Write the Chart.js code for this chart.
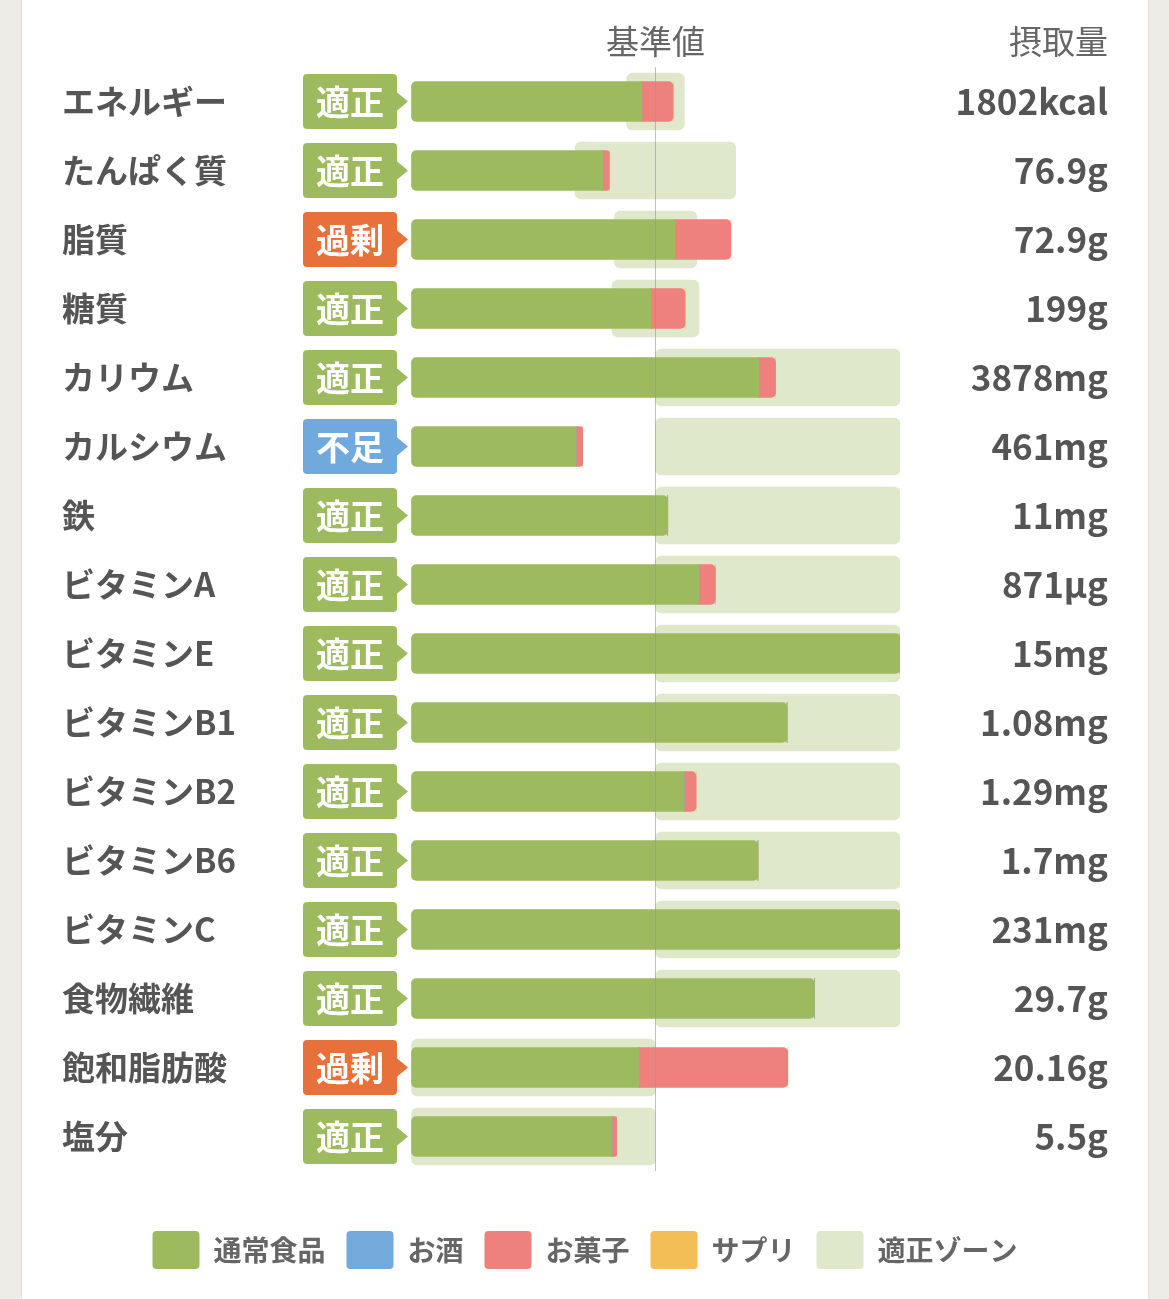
<!DOCTYPE html>
<html lang="ja">
<head>
<meta charset="utf-8">
<title>栄養素バランス</title>
<script src="https://cdn.jsdelivr.net/npm/chart.js@4.4.1/dist/chart.umd.min.js"></script>
<style>
  html, body { margin: 0; padding: 0; background: #edece6; overflow: hidden; }
  .card { position: absolute; left: 22px; top: 0; width: 1126px; height: 1299px; background: #fff; box-shadow: 0 0 2px rgba(0,0,0,0.15); }
  #canvas { position: absolute; left: 0; top: 0; }
</style>
</head>
<body>
<div class="card"></div>
<canvas id="canvas" width="1169" height="1299"></canvas>
<script>
const nutrients = [
  'エネルギー', 'たんぱく質', '脂質', '糖質',
  'カリウム', 'カルシウム', '鉄', 'ビタミンA',
  'ビタミンE', 'ビタミンB1', 'ビタミンB2', 'ビタミンB6',
  'ビタミンC', '食物繊維', '飽和脂肪酸', '塩分'
];

const intake = [
  '1802kcal', '76.9g', '72.9g', '199g',
  '3878mg', '461mg', '11mg', '871µg',
  '15mg', '1.08mg', '1.29mg', '1.7mg',
  '231mg', '29.7g', '20.16g', '5.5g'
];

const status = [
  '適正', '適正', '過剰', '適正',
  '適正', '不足', '適正', '適正',
  '適正', '適正', '適正', '適正',
  '適正', '適正', '過剰', '適正'
];

// % of the reference value (the chart is cut at 200)
const foodPct = [94.4, 78.4, 108, 98.2, 142.3, 67.5, 105, 117.7, 200, 153.8, 111.7, 141.9, 200, 165, 93.3, 82.2];
const alcoholPct = [0, 0, 0, 0, 0, 0, 0, 0, 0, 0, 0, 0, 0, 0, 0, 0];
const snackPct = [12.8, 2.7, 22.8, 13.9, 6.8, 2.7, 0, 6.8, 0, 0, 4.9, 0, 0, 0, 60.8, 1.9];
const supplementPct = [0, 0, 0, 0, 0, 0, 0, 0, 0, 0, 0, 0, 0, 0, 0, 0];

const zoneMin = [88.2, 67.1, 83.2, 82.2, 100, 100, 100, 100, 100, 100, 100, 100, 100, 100, 0, 0];
const zoneMax = [111.8, 132.8, 116.9, 117.8, 200, 200, 200, 200, 200, 200, 200, 200, 200, 200, 100, 100];

const baseLabel = '基準値';
const intakeTitle = '摂取量';

const badgeColors = { '適正': '#9dbb5e', '過剰': '#e8703a', '不足': '#6fa9dd' };

const pieces = [foodPct, alcoholPct, snackPct, supplementPct];
const R = 5;

// round only the outer ends of a stacked bar
function radiusFor(series, i) {
  const firstIdx = pieces.findIndex(p => p[i] > 0);
  let lastIdx = -1;
  pieces.forEach((p, k) => { if (p[i] > 0) lastIdx = k; });
  const left = series === firstIdx ? R : 0;
  const right = series === lastIdx ? R : 0;
  return { topLeft: left, bottomLeft: left, topRight: right, bottomRight: right };
}

function piece(label, values, color, series) {
  return {
    label: label,
    data: values,
    backgroundColor: color,
    borderWidth: 0,
    borderSkipped: false,
    borderRadius: c => radiusFor(series, c.dataIndex),
    barThickness: 40,
    grouped: false,
    stack: 'intake',
    order: 0
  };
}

const badgePlugin = {
  id: 'badges',
  afterDraw(chart) {
    const { ctx, chartArea } = chart;
    const y = chart.scales.y;
    const right = chartArea.left - 14;
    const w = 94, h = 55;
    ctx.save();
    status.forEach((s, i) => {
      const cy = y.getPixelForValue(i);
      const x0 = right - w, y0 = cy - h / 2;
      ctx.fillStyle = badgeColors[s];
      ctx.beginPath();
      ctx.roundRect(x0, y0, w, h, 4);
      ctx.fill();
      ctx.beginPath();
      ctx.moveTo(right - 1, cy - 10);
      ctx.lineTo(right + 11, cy);
      ctx.lineTo(right - 1, cy + 10);
      ctx.closePath();
      ctx.fill();
      ctx.fillStyle = '#fff';
      ctx.font = "bold 34px 'Noto Sans CJK JP', sans-serif";
      ctx.textAlign = 'center';
      ctx.textBaseline = 'middle';
      ctx.fillText(s, x0 + w / 2, cy + 1);
    });
    // right column header
    ctx.fillStyle = '#666';
    ctx.font = "33px 'Noto Sans CJK JP', sans-serif";
    ctx.textAlign = 'right';
    ctx.textBaseline = 'middle';
    ctx.fillText(intakeTitle, chart.scales.y2.right, chartArea.top - 26);
    ctx.restore();
  }
};

Chart.defaults.font.family = "'Noto Sans CJK JP', 'Noto Sans', sans-serif";

const ctx = document.getElementById('canvas').getContext('2d');

const myChart = new Chart(ctx, {
  type: 'bar',
  data: {
    labels: nutrients,
    datasets: [
      piece('通常食品', foodPct, '#9dbb5e', 0),
      piece('お酒', alcoholPct, '#72aadc', 1),
      piece('お菓子', snackPct, '#ee807d', 2),
      piece('サプリ', supplementPct, '#f3be55', 3),
      {
        label: '適正ゾーン',
        data: zoneMin.map((m, i) => [m, zoneMax[i]]),
        backgroundColor: '#dfe8cb',
        borderWidth: 0,
        borderSkipped: false,
        borderRadius: 6,
        barThickness: 57,
        grouped: false,
        stack: 'zone',
        order: 1
      }
    ]
  },
  options: {
    indexAxis: 'y',
    responsive: false,
    animation: false,
    layout: { padding: { top: 0, left: 62, right: 61, bottom: 20 } },
    scales: {
      x: {
        position: 'top',
        stacked: true,
        min: 0,
        max: 200,
        grid: {
          z: 1,
          drawTicks: false,
          color: c => (c.tick && c.tick.value === 100) ? 'rgba(150,150,150,0.6)' : 'rgba(0,0,0,0)'
        },
        border: { display: false },
        ticks: {
          stepSize: 100,
          padding: 6,
          color: '#666',
          font: { size: 33 },
          callback: v => v === 100 ? baseLabel : ''
        },
        afterFit: s => { s.height = 67; }
      },
      xb: {
        type: 'linear',
        position: 'bottom',
        grid: { display: false },
        border: { display: false },
        ticks: { display: false },
        afterFit: s => { s.height = 39; }
      },
      y: {
        grid: { display: false },
        border: { display: false },
        ticks: {
          crossAlign: 'far',
          color: '#555',
          font: { size: 33, weight: 'bold' }
        },
        afterFit: s => { s.width = 349; }
      },
      y2: {
        type: 'category',
        labels: intake,
        position: 'right',
        offset: true,
        grid: { display: false },
        border: { display: false },
        ticks: {
          crossAlign: 'far',
          color: '#555',
          font: { size: 35, weight: 'bold' }
        },
        afterFit: s => { s.width = 208; }
      }
    },
    plugins: {
      legend: {
        position: 'bottom',
        labels: {
          boxWidth: 47,
          boxHeight: 38,
          padding: 21,
          color: '#666',
          useBorderRadius: true,
          borderRadius: 4,
          font: { size: 28, weight: 'bold' }
        }
      },
      tooltip: { enabled: false }
    }
  },
  plugins: [badgePlugin]
});
</script>
</body>
</html>
